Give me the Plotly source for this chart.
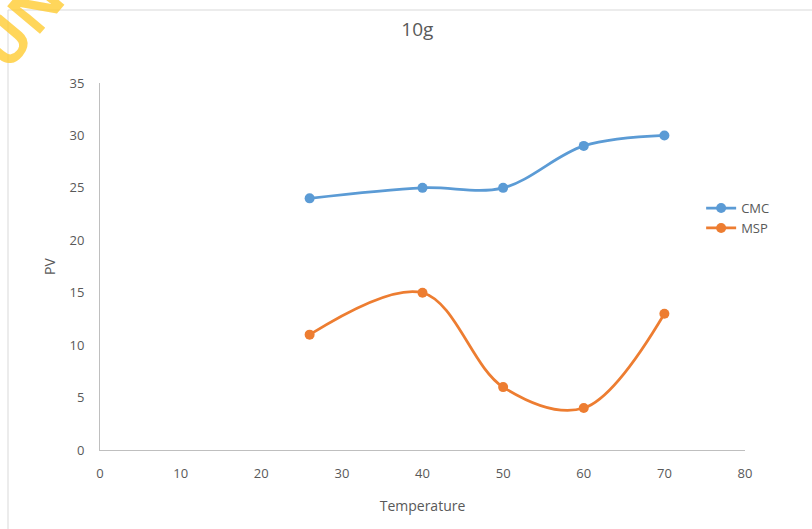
import plotly.graph_objects as go

temperature = [26, 40, 50, 60, 70]
cmc = [24, 25, 25, 29, 30]
msp = [11, 15, 6, 4, 13]
x_ticks = [0, 10, 20, 30, 40, 50, 60, 70, 80]
y_ticks = [0, 5, 10, 15, 20, 25, 30, 35]

FONT = "Open Sans"
GRAY = "#595959"

fig = go.Figure()
fig.add_trace(go.Scatter(x=temperature, y=cmc, name="CMC", mode="lines+markers",
                         line=dict(color="#5B9BD5", width=2.75, shape="spline", smoothing=1),
                         marker=dict(size=10, color="#5B9BD5")))
fig.add_trace(go.Scatter(x=temperature, y=msp, name="MSP", mode="lines+markers",
                         line=dict(color="#ED7D31", width=2.75, shape="spline", smoothing=1),
                         marker=dict(size=10, color="#ED7D31")))

fig.update_layout(
    width=812, height=529,
    margin=dict(l=100, r=67, t=83, b=79, autoexpand=False),
    paper_bgcolor="white", plot_bgcolor="white",
    font=dict(family=FONT, color=GRAY, size=13),
    title=dict(text="10g", x=0.492, xref="paper", y=0.945, yanchor="middle",
               font=dict(size=19, color=GRAY, family=FONT)),
    showlegend=True,
    legend=dict(x=0.932, y=0.7, xanchor="left", yanchor="top",
                font=dict(size=13, color=GRAY), bgcolor="rgba(0,0,0,0)",
                itemwidth=30, tracegroupgap=0),
    xaxis=dict(range=[0, 80], tickvals=x_ticks, showgrid=False, zeroline=False,
               showline=True, linecolor="#BFBFBF", linewidth=1, ticks="",
               ticklabelstandoff=11, automargin=False,
               tickfont=dict(size=13, color=GRAY),
               title=dict(text="Temperature", font=dict(size=14, color=GRAY), standoff=20)),
    yaxis=dict(range=[0, 35], tickvals=y_ticks, showgrid=False, zeroline=False,
               showline=True, linecolor="#BFBFBF", linewidth=1, ticks="",
               ticklabelstandoff=12, automargin=False,
               tickfont=dict(size=13, color=GRAY),
               title=dict(text="PV", font=dict(size=14, color=GRAY), standoff=10)),
)

# chart border
fig.add_shape(type="rect", xref="paper", yref="paper",
              x0=(8 - 100) / 645, x1=(820 - 100) / 645,
              y0=-(540 - 450) / 367, y1=1 + (83 - 10) / 367,
              line=dict(color="#D9D9D9", width=1), fillcolor="rgba(0,0,0,0)", layer="below")

# watermark fragment (mostly off-canvas, as in the reference)
fig.add_annotation(text="<b>UN</b>", xref="paper", yref="paper",
                   x=(20 - 100) / 645, y=1 + (83 - 22) / 367, showarrow=False,
                   xanchor="center", yanchor="middle",
                   textangle=-50, opacity=0.8,
                   font=dict(size=60, color="#FFCC33", family=FONT))

fig.write_html("out.html", post_script="document.body.style.margin='0';",
               config={"displayModeBar": False})
